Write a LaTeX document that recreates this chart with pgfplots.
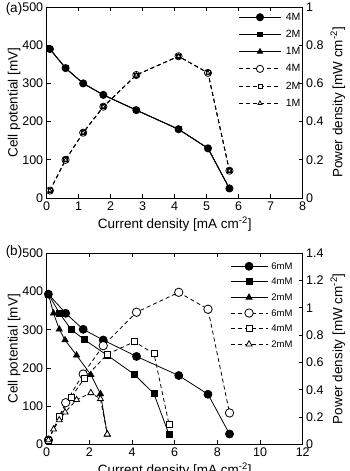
\documentclass[border=0pt]{standalone}
\usepackage{fontspec}
\setmainfont{Liberation Sans}
\usepackage{pgfplots}
\pgfplotsset{compat=1.18}
\newcommand\fL{\fontsize{13.5}{13.5}\selectfont}
\newcommand\fT{\fontsize{12.5}{12.5}\selectfont}
\newcommand\fLegA{\fontsize{10.5}{10.5}\selectfont}
\newcommand\fLegB{\fontsize{9.5}{9.5}\selectfont}
\begin{document}
\begin{tikzpicture}
\path[use as bounding box] (0,0) rectangle (349pt,471pt);
\clip (0,0) rectangle (349pt,471pt);
\pgfplotsset{
 base/.style={width=256pt, height=191pt, scale only axis, anchor=south west,
   /pgf/number format/assume math mode=true,
   tick align=inside, axis line style={line width=0.8pt},
   major tick length=4pt, every tick/.style={line width=0.8pt, black},
   every axis x label/.style={at={(axis description cs:0.5,-0.135)}, anchor=center, font=\fL},
   xticklabel style={font=\fT}, yticklabel style={font=\fT},
 },
 leftax/.style={base, ytick pos=left, xtick pos=both,
   every axis y label/.style={at={(axis description cs:-0.127,0.5)}, rotate=90, anchor=center, font=\fL}},
 rightax/.style={base, axis y line*=right, axis x line=none, xtick=\empty,
   every axis y label/.style={at={(axis description cs:1.137,0.5)}, rotate=90, anchor=center, font=\fL},
   legend cell align=left},
 vline/.style={black, solid, line width=0.8pt},
 pline/.style={black, line width=0.8pt, dash pattern=on 4pt off 3pt},
}
\node[font=\fL] at (14pt,462pt) {(a)};
\node[font=\fL] at (14pt,219pt) {(b)};

% ---------- (a) ----------
\begin{axis}[leftax, at={(46.7pt,273pt)}, xmin=0, xmax=8, ymin=0, ymax=500,
  xtick={0,1,2,3,4,5,6,7,8}, ytick={0,100,200,300,400,500},
  xlabel={Current density [mA cm\textsuperscript{-2}]}, ylabel={Cell potential [mV]}]
\addplot[vline, mark=*, mark size=3.6pt] coordinates {(0.1,390)(0.59,340)(1.14,300)(1.77,270)(2.80,230)(4.12,180)(5.04,130)(5.71,25)};
\addplot[vline, mark=square*, mark size=2.4pt] coordinates {(0.1,390)(0.59,340)(1.14,300)(1.77,270)(2.80,230)(4.12,180)(5.04,130)(5.71,25)};
\addplot[vline, mark=triangle*, mark size=3pt] coordinates {(0.1,390)(0.59,340)(1.14,300)(1.77,270)(2.80,230)(4.12,180)(5.04,130)(5.71,25)};
\end{axis}
\begin{axis}[rightax, at={(46.7pt,273pt)}, xmin=0, xmax=8, ymin=0, ymax=1,
  ytick={0,0.2,0.4,0.6,0.8,1}, ylabel={Power density [mW cm\textsuperscript{-2}]},
  legend style={at={(axis description cs:0.998,0.976)}, anchor=north east, draw=none, fill=none,
    font=\fLegA, row sep=6.2pt, column sep=3pt, inner sep=0pt,
    nodes={inner sep=1.5pt, text height=7pt, text depth=1pt}},
  legend image code/.code={\draw[mark repeat=2,mark phase=2,#1] plot coordinates {(0pt,0pt) (21pt,0pt) (42pt,0pt)};}]
\addlegendimage{vline, mark=*, mark size=3.6pt}
\addlegendentry{4M}
\addlegendimage{vline, mark=square*, mark size=2.4pt}
\addlegendentry{2M}
\addlegendimage{vline, mark=triangle*, mark size=3pt}
\addlegendentry{1M}
\addplot[pline, mark=*, mark size=3.6pt, mark options={solid, fill=white}] coordinates {(0.1,0.039)(0.59,0.2)(1.14,0.342)(1.77,0.478)(2.8,0.644)(4.12,0.742)(5.04,0.655)(5.71,0.143)};
\addlegendentry{4M}
\addplot[pline, mark=square*, mark size=2pt, mark options={solid, fill=white}] coordinates {(0.1,0.039)(0.59,0.2)(1.14,0.342)(1.77,0.478)(2.8,0.644)(4.12,0.742)(5.04,0.655)(5.71,0.143)};
\addlegendentry{2M}
\addplot[pline, mark=triangle*, mark size=2.3pt, mark options={solid, fill=white}] coordinates {(0.1,0.039)(0.59,0.2)(1.14,0.342)(1.77,0.478)(2.8,0.644)(4.12,0.742)(5.04,0.655)(5.71,0.143)};
\addlegendentry{1M}
\end{axis}

% ---------- (b) ----------
\begin{axis}[leftax, at={(46.7pt,26.7pt)}, xmin=0, xmax=12, ymin=0, ymax=500,
  xtick={0,2,4,6,8,10,12}, ytick={0,100,200,300,400,500},
  xlabel={Current density [mA cm\textsuperscript{-2}]}, ylabel={Cell potential [mV]}]
\addplot[vline, mark=*, mark size=4pt] coordinates {(0.08,393)(0.89,343)(1.71,301)(2.65,273)(4.21,230)(6.19,180)(7.56,131)(8.57,27)};
\addplot[vline, mark=square*, mark size=3pt] coordinates {(0.08,393)(0.6,343)(1.14,301)(1.76,274)(2.84,233)(4.11,183)(5.03,132)(5.73,26)};
\addplot[vline, mark=triangle*, mark size=3.5pt] coordinates {(0.08,393)(0.32,343)(0.59,301)(0.86,273)(1.4,233)(2.07,182)(2.52,132)(2.84,26)};
\end{axis}
\begin{axis}[rightax, at={(46.7pt,26.7pt)}, xmin=0, xmax=12, ymin=0, ymax=1.4,
  ytick={0,0.2,0.4,0.6,0.8,1,1.2,1.4}, ylabel={Power density [mW cm\textsuperscript{-2}]},
  legend style={at={(axis description cs:0.967,0.962)}, anchor=north east, draw=none, fill=none,
    font=\fLegB, row sep=4.6pt, column sep=2pt, inner sep=0pt,
    nodes={inner sep=1.5pt, text height=7pt, text depth=1pt}},
  legend image code/.code={\draw[mark repeat=2,mark phase=2,#1] plot coordinates {(0pt,0pt) (18.5pt,0pt) (37pt,0pt)};}]
\addlegendimage{vline, mark=*, mark size=4pt}
\addlegendentry{6mM}
\addlegendimage{vline, mark=square*, mark size=3pt}
\addlegendentry{4mM}
\addlegendimage{vline, mark=triangle*, mark size=3.5pt}
\addlegendentry{2mM}
\addplot[pline, mark=*, mark size=4.2pt, mark options={solid, fill=white}] coordinates {(0.08,0.031)(0.89,0.305)(1.71,0.515)(2.65,0.723)(4.21,0.968)(6.19,1.114)(7.56,0.99)(8.57,0.23)};
\addlegendentry{6mM}
\addplot[pline, mark=square*, mark size=3pt, mark options={solid, fill=white}] coordinates {(0.08,0.031)(0.6,0.206)(1.14,0.343)(1.76,0.482)(2.84,0.66)(4.11,0.752)(5.03,0.664)(5.73,0.149)};
\addlegendentry{4mM}
\addplot[pline, mark=triangle*, mark size=3.5pt, mark options={solid, fill=white}] coordinates {(0.08,0.031)(0.32,0.11)(0.59,0.178)(0.86,0.235)(1.4,0.326)(2.07,0.377)(2.52,0.333)(2.84,0.074)};
\addlegendentry{2mM}
\end{axis}
\end{tikzpicture}
\end{document}
